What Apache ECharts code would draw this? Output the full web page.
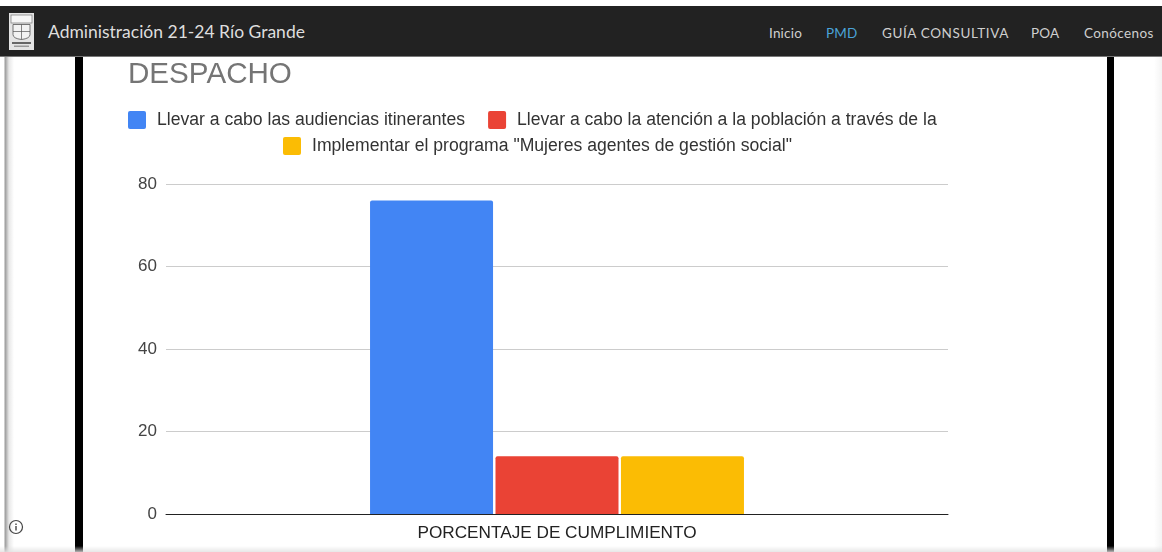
<!DOCTYPE html>
<html><head><meta charset="utf-8">
<script src="https://cdn.jsdelivr.net/npm/echarts@6/dist/echarts.min.js"></script>
<style>
html,body{margin:0;padding:0;background:#fff;overflow:hidden}
#page{position:relative;width:1162px;height:552px;overflow:hidden;background:#fff}
#chart{position:absolute;left:0;top:0;width:1162px;height:552px}
.rail{position:absolute;top:56px;bottom:0;background:#000}
#shadeL{position:absolute;left:0;top:56px;bottom:0;width:14px;background:linear-gradient(90deg,#fff 0,#fff 4px,#9a9a9a 5px,#e8e8e8 9px,#fff 14px)}
#shadeR{position:absolute;left:1114px;top:56px;bottom:0;width:48px;background:linear-gradient(90deg,#fff 0,#fff 40px,#f4f4f4 48px)}
#shadeB{position:absolute;left:0;right:0;bottom:0;height:6px;background:linear-gradient(180deg,rgba(230,230,230,0),rgba(225,225,225,.8))}
#nav{position:absolute;left:0;right:0;top:6px;height:51px;background:#222;border-bottom:1px solid #777;box-sizing:border-box}
#brand{position:absolute;left:48px;top:15px;font:400 17.5px Lato,sans-serif;color:#dedede;white-space:nowrap}
.lnk{position:absolute;top:19px;font:13.5px Lato,sans-serif;letter-spacing:.2px;color:#cfcfcf;white-space:nowrap}
#logo{position:absolute;left:9px;top:7px}
#info{position:absolute;left:8px;top:519px}
</style></head><body>
<div id="page">
<div id="chart"></div>
<div id="shadeL"></div><div id="shadeR"></div>
<div class="rail" style="left:75px;width:8px"></div>
<div class="rail" style="left:1107px;width:7px"></div>
<div id="shadeB"></div>
<div id="nav">
<svg id="logo" width="25" height="37" viewBox="0 0 25 37"><rect width="25" height="37" fill="#e4e4e4"/><rect x="2" y="2" width="21" height="8" fill="#f6f6f6" stroke="#777" stroke-width=".7"/><path d="M4 11.500h17v10q0 4-8.500 5q-8.500-1-8.500-5z" fill="#f2f2f2" stroke="#555" stroke-width=".8"/><path d="M12.500 11.500v15M4 18.500h17" stroke="#555" stroke-width=".7"/><rect x="3" y="29" width="19" height="2" fill="#666"/><rect x="5" y="32.500" width="15" height="1.500" fill="#999"/></svg>
<div id="brand">Administración 21-24 Río Grande</div>
<div class="lnk" style="left:769px">Inicio</div>
<div class="lnk" style="left:826px;color:#4aa3d8">PMD</div>
<div class="lnk" style="left:882px;letter-spacing:.6px">GUÍA CONSULTIVA</div>
<div class="lnk" style="left:1031px">POA</div>
<div class="lnk" style="left:1084px;letter-spacing:.4px">Conócenos</div>
</div>
<svg id="info" width="16" height="16" viewBox="0 0 16 16"><circle cx="8" cy="8" r="6.500" fill="none" stroke="#444" stroke-width="1.200"/><rect x="7.300" y="7" width="1.400" height="4.500" fill="#444"/><rect x="7.300" y="4.500" width="1.400" height="1.500" fill="#444"/></svg>
</div>
<script>
const categories = ["PORCENTAJE DE CUMPLIMIENTO"];
const seriesNames = ["Llevar a cabo las audiencias itinerantes","Llevar a cabo la atención a la población a través de la","Implementar el programa \"Mujeres agentes de gestión social\""];
const blueValues = [76];
const redValues = [14];
const amberValues = [14];
const colors = ["#4285f4","#ea4335","#fbbc04"];
const yTicks = [0,20,40,60,80];
const font = "Liberation Sans, Arial, sans-serif";
const swatch = "path://M2 0H16A2 2 0 0 1 18 2V16A2 2 0 0 1 16 18H2A2 2 0 0 1 0 16V2A2 2 0 0 1 2 0Z";
const chart = echarts.init(document.getElementById("chart"),null,{renderer:"canvas"});
const legendBase = {orient:"horizontal",icon:swatch,itemWidth:18,itemHeight:18,itemGap:23,
  textStyle:{fontFamily:font,fontSize:17.6,color:"#333",padding:[0,0,0,6]},selectedMode:false,padding:0};
chart.setOption({
  animation:false,
  title:{text:"DESPACHO",left:128,top:60,padding:0,textStyle:{fontFamily:font,fontSize:29.6,fontWeight:"normal",color:"#757575"}},
  legend:[
    Object.assign({},legendBase,{left:128,top:111,data:seriesNames.slice(0,2)}),
    Object.assign({},legendBase,{left:283,top:137,data:seriesNames.slice(2)})
  ],
  grid:{left:166,right:214,top:184,bottom:38,containLabel:false},
  xAxis:{type:"category",data:categories,
    axisLine:{lineStyle:{color:"#222",width:1}},axisTick:{show:false},
    axisLabel:{fontFamily:font,fontSize:17.2,color:"#222",margin:11}},
  yAxis:{type:"value",min:0,max:yTicks[yTicks.length-1],interval:yTicks[1]-yTicks[0],
    axisLine:{show:false},axisTick:{show:false},
    splitLine:{lineStyle:{color:"#ccc",width:1}},
    axisLabel:{fontFamily:font,fontSize:17,color:"#444",margin:9}},
  series:[
    {name:seriesNames[0],type:"bar",data:blueValues,barWidth:123,barGap:"2%",itemStyle:{color:colors[0],borderRadius:[2,2,0,0]}},
    {name:seriesNames[1],type:"bar",data:redValues,barWidth:123,barGap:"2%",itemStyle:{color:colors[1],borderRadius:[2,2,0,0]}},
    {name:seriesNames[2],type:"bar",data:amberValues,barWidth:123,barGap:"2%",itemStyle:{color:colors[2],borderRadius:[2,2,0,0]}}
  ]
});
</script>
</body></html>
